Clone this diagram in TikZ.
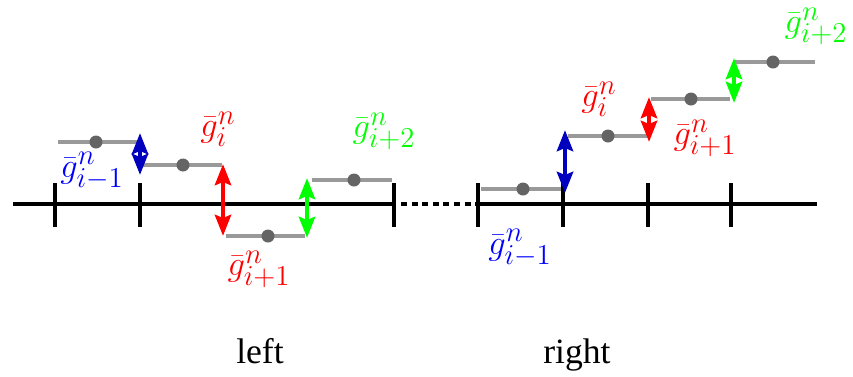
\documentclass[tikz,border=0pt]{standalone}
\usepackage{fontspec}
\setmainfont{Liberation Serif}
\usetikzlibrary{arrows.meta}
\definecolor{darkblue}{RGB}{0,0,190}
\definecolor{cellgray}{RGB}{153,153,153}
\definecolor{dotgray}{RGB}{100,100,100}
\definecolor{brightgreen}{RGB}{0,255,0}
\tikzset{
  axisline/.style={line width=2pt, black},
  tickmark/.style={line width=2pt, black},
  cell/.style={line width=1.9pt, cellgray},
  celldot/.style={fill=dotgray},
  jump/.style={line width=2.4pt, {Stealth[length=10.5pt,width=8pt,inset=1.5pt]}-{Stealth[length=10.5pt,width=8pt,inset=1.5pt]}},
  lab/.style={inner sep=0pt, font=\fontsize{19}{22}\selectfont},
  caption/.style={inner sep=0pt, anchor=base, font=\fontsize{17.8}{20}\selectfont},
}
\begin{document}
\begin{tikzpicture}[x=0.5pt, y=-0.5pt]
\useasboundingbox (0,0) rectangle (853,376);
% axes
\draw[axisline] (13,204) -- (396,204);
\draw[axisline, dash pattern=on 3pt off 2.3pt] (401,204) -- (476,204);
\draw[axisline] (478,204) -- (817,204);
% ticks
\foreach \x in {55,140,223,307,394,478,563,648,731}
  \draw[tickmark] (\x,183) -- (\x,227);
% left cells
\draw[cell] (58,142) -- (137,142);
\draw[cell] (142,165) -- (222,165);
\draw[cell] (226,236) -- (305,236);
\draw[cell] (312,180) -- (392,180);
\foreach \x/\y in {96/142,183/165,268/236,354/180}
  \fill[celldot] (\x,\y) circle (6.5);
% right cells
\draw[cell] (481,189) -- (561,189);
\draw[cell] (568,136) -- (647,136);
\draw[cell] (651,99) -- (730,99);
\draw[cell] (735,62) -- (815,62);
\foreach \x/\y in {523/189,608/136,691/99,773/62}
  \fill[celldot] (\x,\y) circle (6.5);
% arrow end points
\coordinate (lbT) at (140,133); \coordinate (lbB) at (140,175);
\coordinate (lrT) at (223,164); \coordinate (lrB) at (223,236);
\coordinate (lgT) at (307,178); \coordinate (lgB) at (307,238);
\coordinate (rbT) at (565,130); \coordinate (rbB) at (565,193);
\coordinate (rrT) at (649,97);  \coordinate (rrB) at (649,142);
\coordinate (rgT) at (734,58);  \coordinate (rgB) at (734,103);
\draw[jump, darkblue] (lbT) -- (lbB);
\draw[jump, red] (lrT) -- (lrB);
\draw[jump, brightgreen] (lgT) -- (lgB);
\draw[jump, darkblue] (rbT) -- (rbB);
\draw[jump, red] (rrT) -- (rrB);
\draw[jump, brightgreen] (rgT) -- (rgB);
% labels
\node[lab, text=blue] (L1) at (92,171) {$\bar{g}^n_{i-1}$};
\node[lab, text=red] (L2) at (218,129) {$\bar{g}^n_{i}$};
\node[lab, text=red] (L3) at (259,269) {$\bar{g}^n_{i+1}$};
\node[lab, text=brightgreen] (L4) at (384,131) {$\bar{g}^n_{i+2}$};
\node[lab, text=blue] (R1) at (520,248) {$\bar{g}^n_{i-1}$};
\node[lab, text=red] (R2) at (599,99) {$\bar{g}^n_{i}$};
\node[lab, text=red] (R3) at (705,138) {$\bar{g}^n_{i+1}$};
\node[lab, text=brightgreen] (R4) at (816,26) {$\bar{g}^n_{i+2}$};
\node[caption] (cl) at (260,363) {left};
\node[caption] (cr) at (577,363) {right};
\end{tikzpicture}
\end{document}
